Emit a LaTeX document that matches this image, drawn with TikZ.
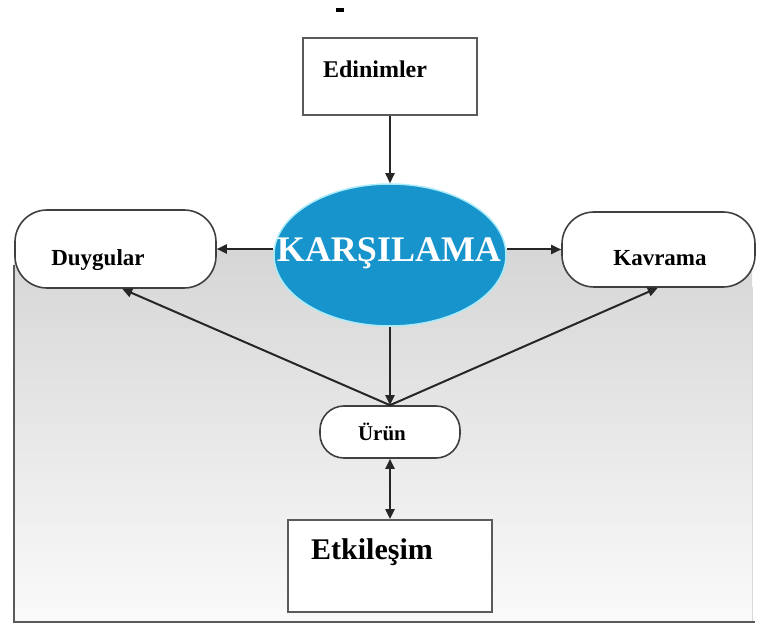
\documentclass[tikz,border=0pt]{standalone}
\usepackage{fontspec}
\setmainfont{Liberation Serif}
\usetikzlibrary{shapes.geometric,arrows.meta}
\definecolor{orbblue}{RGB}{24,148,204}
\definecolor{orbedge}{RGB}{170,235,250}
\definecolor{framegray}{RGB}{90,90,90}
\definecolor{panetop}{RGB}{214,214,214}
\definecolor{panebottom}{RGB}{250,250,250}
\newcommand{\fs}[1]{\fontsize{#1}{#1}\selectfont\bfseries}
\begin{document}
\begin{tikzpicture}[x=1pt,y=-1pt,
  conn/.style={draw=black!85, line width=2pt, -{Triangle[length=10pt,width=9pt]}},
  bothconn/.style={draw=black!85, line width=2pt, {Triangle[length=10pt,width=9pt]}-{Triangle[length=10pt,width=9pt]}},
  sqbox/.style={draw=framegray, fill=white, line width=1.8pt, inner sep=0pt},
  pillbox/.style={draw=black!75, fill=white, line width=1.6pt, inner sep=0pt},
  lbl/.style={anchor=base, inner sep=0pt, text=black}]
\useasboundingbox (0,0) rectangle (758,628);

% shaded panel behind the lower part
\shade[top color=panetop, bottom color=panebottom] (14,250) rectangle (752,622);
\draw[draw=black!15, line width=1pt] (752,287) -- (752,622);
\draw[draw=framegray, line width=2.2pt] (14,265) -- (14,622) -- (755,622);

% small mark at the top
\fill[black] (336,8) rectangle (344,12);

% boxes
\node[sqbox, minimum width=174, minimum height=77] (edin) at (390,76.5) {};
\node[lbl] (edintxt) at (375,78) {\fs{24}Edinimler};

\node[ellipse, fill=orbblue, draw=orbedge, line width=1.5pt,
      minimum width=232, minimum height=142, inner sep=0pt] (kar) at (390,255) {};
\node[lbl, text=white] (kartxt) at (389,262) {\fs{36}KARŞILAMA};

\node[pillbox, rounded corners=32pt, minimum width=201, minimum height=78] (duy) at (115.5,249) {};
\node[lbl] (duytxt) at (98,266) {\fs{23}Duygular};

\node[pillbox, rounded corners=32pt, minimum width=193, minimum height=75] (kav) at (658.5,249.5) {};
\node[lbl] (kavtxt) at (660,266) {\fs{23}Kavrama};

\node[pillbox, rounded corners=24pt, minimum width=140, minimum height=52] (urun) at (390,432) {};
\node[lbl] (uruntxt) at (382,440) {\fs{21}Ürün};

\node[sqbox, line width=1.7pt, minimum width=204, minimum height=92] (etk) at (390,566) {};
\node[lbl] (etktxt) at (372,559) {\fs{30}Etkileşim};

% connectors
\draw[conn] (edin.south) -- (kar.north);
\draw[conn] (kar.west |- duy.east) -- (duy.east);
\draw[conn] (kar.east |- kav.west) -- (kav.west);
\draw[conn] (kar.south) -- (urun.north);
\draw[conn] (urun.north) -- ([xshift=108pt]duy.south west);
\draw[conn] (urun.north) -- ([xshift=-98pt]kav.south east);
\draw[bothconn] (urun.south) -- (etk.north);
\end{tikzpicture}
\end{document}
